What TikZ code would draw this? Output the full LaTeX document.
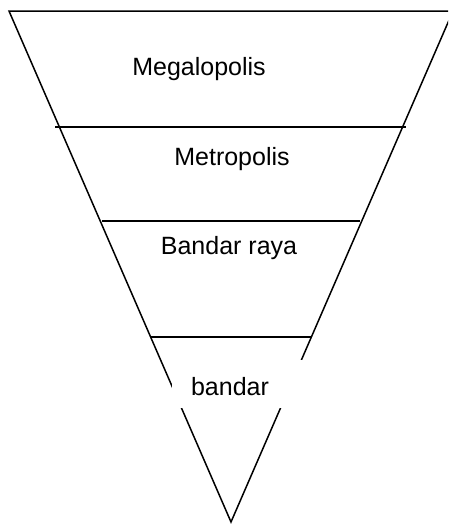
\documentclass[tikz,border=0pt]{standalone}
\usepackage{fontspec}
\setmainfont{Liberation Sans}
\usepackage{tikz}

\begin{document}
\begin{tikzpicture}[x=1pt, y=-1pt, line width=1.5pt,
        every node/.append style={inner sep=0pt}]
      \tikzstyle{word} = [font=\fontsize{25}{30}\selectfont, color=black, anchor=base]
      \tikzstyle{level} = [draw=black]
      \useasboundingbox (0,0) rectangle (448,525);
      \clip (0,0) rectangle (448,525);
      \coordinate (topL) at (9,11);
      \coordinate (topR) at (453,11);
      \coordinate (apex) at (231,522);
      \coordinate (megaL) at (55,127);
      \coordinate (megaR) at (406,127);
      \coordinate (metroL) at (102,221);
      \coordinate (metroR) at (360,221);
      \coordinate (rayaL) at (150,337);
      \coordinate (rayaR) at (312,337);
      \draw[level] (topL) -- (topR) -- (apex) -- cycle;
      \draw[level] (megaL) -- (megaR);
      \draw[level] (metroL) -- (metroR);
      \draw[level] (rayaL) -- (rayaR);
      \node (mask) [fill=white, minimum width=133pt, minimum height=48pt] at (238.5,384) {};
      \node (Megalopolis) [word] at (199,75) {Megalopolis};
      \node (Metropolis) [word] at (232,165) {Metropolis};
      \node (BandarRaya) [word] at (229,254) {Bandar raya};
      \node (bandar) [word] at (230,395) {bandar};
    \end{tikzpicture}
\end{document}
